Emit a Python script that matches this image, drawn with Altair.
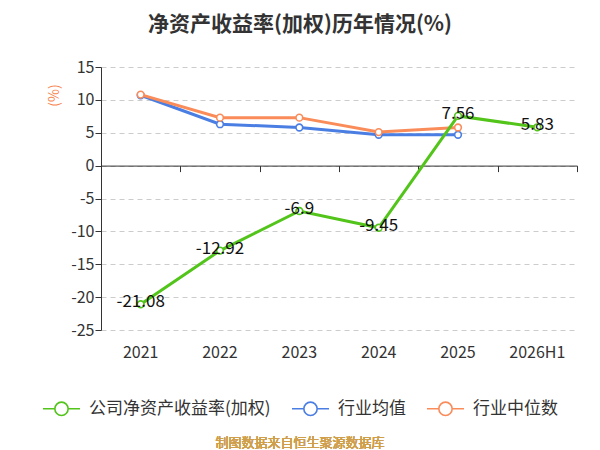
import altair as alt
import pandas as pd

years = ["2021", "2022", "2023", "2024", "2025", "2026H1"]
company = [-21.08, -12.92, -6.9, -9.45, 7.56, 5.83]
ind_avg = [10.7, 6.3, 5.8, 4.7, 4.7]
ind_med = [10.8, 7.3, 7.3, 5.1, 5.8]

S_COMP = "公司净资产收益率(加权)"
S_AVG = "行业均值"
S_MED = "行业中位数"
series = [S_COMP, S_AVG, S_MED]
colors = ["#52c41a", "#4a7ee3", "#fa8c5a"]

rows = []
for y, v in zip(years, company):
    rows.append({"year": y, "value": v, "series": S_COMP})
for y, v in zip(years, ind_avg):
    rows.append({"year": y, "value": v, "series": S_AVG})
for y, v in zip(years, ind_med):
    rows.append({"year": y, "value": v, "series": S_MED})
df = pd.DataFrame(rows)

FONT = "Noto Sans CJK SC"
W, H = 476, 263

legend_path = ("M-1,0L-0.36,0M0.36,0L1,0M-0.36,0A0.36,0.36,0,1,0,0.36,0"
               "A0.36,0.36,0,1,0,-0.36,0Z")

color = alt.Color(
    "series:N",
    scale=alt.Scale(domain=series, range=colors),
    legend=alt.Legend(
        title=None, orient="none", direction="horizontal",
        legendX=-59, legendY=322,
        symbolType=legend_path, symbolSize=1369, symbolStrokeWidth=1.6,
        symbolFillColor="white", labelFontSize=17, labelFont=FONT,
        labelColor="#333333", labelOffset=8, columnPadding=17,
        labelLimit=400,
    ),
)

x_labels = alt.X(
    "year:N", sort=years, title=None,
    scale=alt.Scale(domain=years, paddingInner=0, paddingOuter=0),
    axis=alt.Axis(domain=False, ticks=False, grid=False, labelAngle=0,
                  labelFontSize=16, labelFont=FONT, labelColor="#333333",
                  labelPadding=14),
)
x_ticks = alt.X(
    "year:N", sort=years, title=None,
    scale=alt.Scale(domain=years, paddingInner=0, paddingOuter=0),
    axis=alt.Axis(domain=True, domainColor="#333333", ticks=True,
                  tickColor="#333333", tickSize=6, tickBand="extent",
                  labels=False, grid=False, orient="bottom", offset=-164.4),
)
y_enc = alt.Y(
    "value:Q", title="(%)",
    scale=alt.Scale(domain=[-25, 15], nice=False, zero=False),
    axis=alt.Axis(values=list(range(-25, 16, 5)), grid=True,
                  labelExpr="'' + datum.value",
                  gridDash=[5, 4], gridColor="#cccccc", domainColor="#333333",
                  tickColor="#333333", tickSize=6, labelPadding=1,
                  labelFontSize=16, labelFont=FONT, labelColor="#333333",
                  titleColor="#f7844f", titleFontSize=14, titleFont=FONT,
                  titleFontWeight="normal", titleX=-40, titleY=28),
)

base = alt.Chart(df)

def line_layer(name):
    return base.transform_filter(alt.datum.series == name).mark_line(
        strokeWidth=3).encode(x=x_labels, y=y_enc, color=color)

def point_layer(name):
    return base.transform_filter(alt.datum.series == name).mark_point(
        shape="circle", size=45, filled=True, fill="white", strokeWidth=1.6,
        opacity=1).encode(x=x_labels, y=y_enc, stroke=alt.Stroke(
            "series:N", scale=alt.Scale(domain=series, range=colors), legend=None))

labels = base.transform_filter(alt.datum.series == S_COMP).transform_calculate(
    lab="'' + datum.value"
).mark_text(
    fontSize=17, font=FONT, color="#111111", baseline="middle", dy=-2
).encode(x=x_labels, y=y_enc, text="lab:N")

footer = base.transform_filter(alt.datum.series == S_COMP).mark_text(
    fontSize=13, font=FONT, color="#cf9f4c"
).encode(x=alt.value(199), y=alt.value(375.5), text=alt.value("制图数据来自恒生聚源数据库"))

zero_axis = base.transform_filter(alt.datum.series == S_COMP).mark_point(
    opacity=0).encode(x=x_ticks, y=y_enc)

main = alt.layer(
    line_layer(S_AVG), point_layer(S_AVG),
    line_layer(S_MED), point_layer(S_MED),
    line_layer(S_COMP), point_layer(S_COMP),
    labels, footer,
)

chart = alt.layer(main, zero_axis).resolve_axis(x="independent").properties(
    width=W, height=H,
    autosize=alt.AutoSizeParams(type="none"),
    padding={"left": 93, "top": 59, "right": 15, "bottom": 120},
    title=alt.TitleParams(
        "净资产收益率(加权)历年情况(%)", anchor="middle", dx=-39, offset=24,
        fontSize=21, font=FONT, fontWeight="bold", color="#333333"),
).configure_view(stroke=None)

chart.save("out.html", embed_options={"renderer": "svg", "actions": False})
